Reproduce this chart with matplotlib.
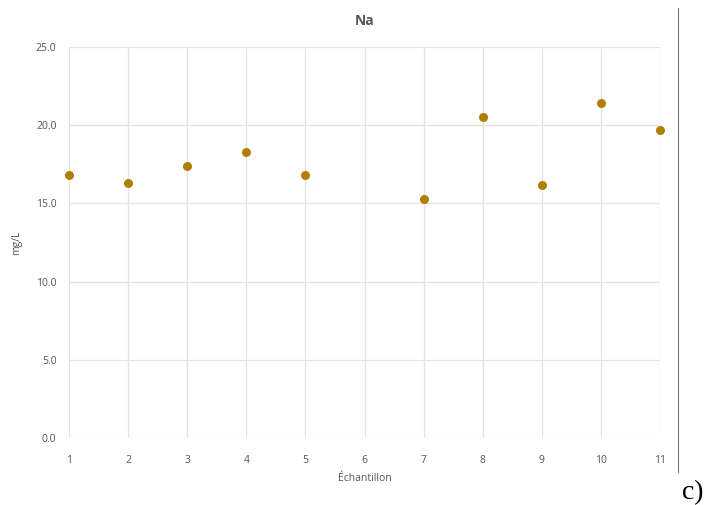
import matplotlib.pyplot as plt
from matplotlib.lines import Line2D

# Na concentration per sample (sample 6 has no value)
samples = [1, 2, 3, 4, 5, 7, 8, 9, 10, 11]
na_mg_l = [16.8, 16.3, 17.4, 18.3, 16.8, 15.3, 20.5, 16.2, 21.4, 19.7]
x_ticks = list(range(1, 12))
y_ticks = [0, 5, 10, 15, 20, 25]

plt.rcParams['font.family'] = ['Open Sans', 'DejaVu Sans']

fig = plt.figure(figsize=(7.09, 5.05), dpi=100)
ax = fig.add_axes([0.0973, 0.1327, 0.8337, 0.7743])

ax.scatter(samples, na_mg_l, s=42, color='#B07F00', zorder=3, linewidths=0, clip_on=False)

ax.set_xlim(1, 11)
ax.set_ylim(0, 25)
ax.set_xticks(x_ticks)
ax.set_yticks(y_ticks)
ax.set_yticklabels([f"{v:.1f}" for v in y_ticks])
ax.grid(True, color='#e4e4e4', linewidth=0.9)
ax.set_axisbelow(True)
for s in ax.spines.values():
    s.set_visible(False)
ax.tick_params(length=0, labelsize=7.5, labelcolor='#555555')
ax.tick_params(axis='x', pad=12)
ax.tick_params(axis='y', pad=9)

ax.set_title("Na", fontsize=10, color='#555555', fontweight='bold', pad=16)
ax.set_xlabel("Échantillon", fontsize=7.5, color='#555555', labelpad=5)
ax.set_ylabel("mg/L", fontsize=7.5, color='#555555', labelpad=10)

# panel letter and the right border line of the figure
fig.text(0.962, 0.012, "c)", fontsize=20, family='Liberation Serif', color='black')
fig.add_artist(Line2D([0.956, 0.956], [0.065, 0.985], color='#777777', linewidth=0.8))

fig.savefig("out.png", dpi=100)
